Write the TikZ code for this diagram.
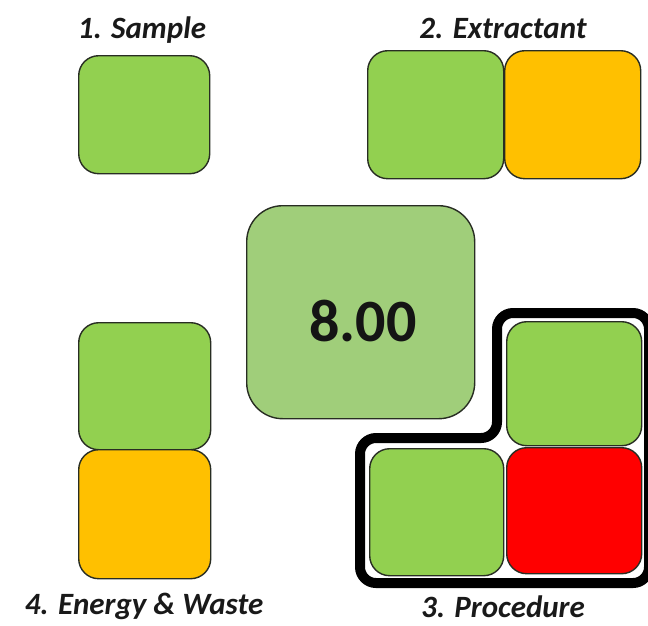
\documentclass[tikz,border=0pt]{standalone}
\usepackage{fontspec}
\setmainfont{Carlito}
\definecolor{gagreen}{RGB}{146,208,80}
\definecolor{gaorange}{RGB}{255,192,0}
\definecolor{gared}{RGB}{255,0,0}
\definecolor{gacenter}{RGB}{160,206,122}
\definecolor{gaedge}{RGB}{40,45,35}
\begin{document}
\begin{tikzpicture}[x=1pt,y=-1pt,
  cell/.style={draw=gaedge, line width=1.4pt, rounded corners=20pt, inner sep=0pt, anchor=north west},
  headlabel/.style={font=\bfseries\itshape\fontsize{31}{31}\selectfont, anchor=base, text=black!90, inner sep=0pt},
  band/.style={draw=black, line width=10pt, rounded corners=16pt},
  score/.style={font=\bfseries\fontsize{60}{60}\selectfont, text=black!92}]
\useasboundingbox (0,0) rectangle (648,625);
% section labels
\node[headlabel] (l1) at (142,38) {1. Sample};
\node[headlabel] (l2) at (503,38) {2. Extractant};
\node[headlabel] (l4) at (144,614) {4. Energy \& Waste};
\node[headlabel] (l3) at (503,617) {3. Procedure};
% 1. Sample
\node[cell, fill=gagreen, minimum width=131pt, minimum height=118pt] (s1) at (78,55) {};
% 2. Extractant
\node[cell, fill=gagreen, minimum width=136pt, minimum height=128pt] (e1) at (367,50) {};
\node[cell, fill=gaorange, minimum width=136pt, minimum height=128pt] (e2) at (504,50) {};
% 4. Energy & Waste
\node[cell, fill=gagreen, minimum width=132pt, minimum height=127pt] (w1) at (78,322) {};
\node[cell, fill=gaorange, minimum width=132pt, minimum height=129pt] (w2) at (78,449) {};
% centre score
\node[cell, fill=gacenter, rounded corners=36pt, minimum width=228pt, minimum height=213pt] (c) at (246,205) {};
\node[score] (sc) at (363,321) {8.00};
% 3. Procedure outline
\draw[band] (360,438) -- (497,438) -- (497,313) -- (649,313) -- (649,583) -- (360,583) -- cycle;
\node[cell, fill=gagreen, minimum width=135pt, minimum height=124pt] (p1) at (506,321) {};
\node[cell, fill=gagreen, minimum width=134pt, minimum height=127pt] (p2) at (369,448) {};
\node[cell, fill=gared, minimum width=135pt, minimum height=126pt] (p3) at (506,447) {};
\end{tikzpicture}
\end{document}
